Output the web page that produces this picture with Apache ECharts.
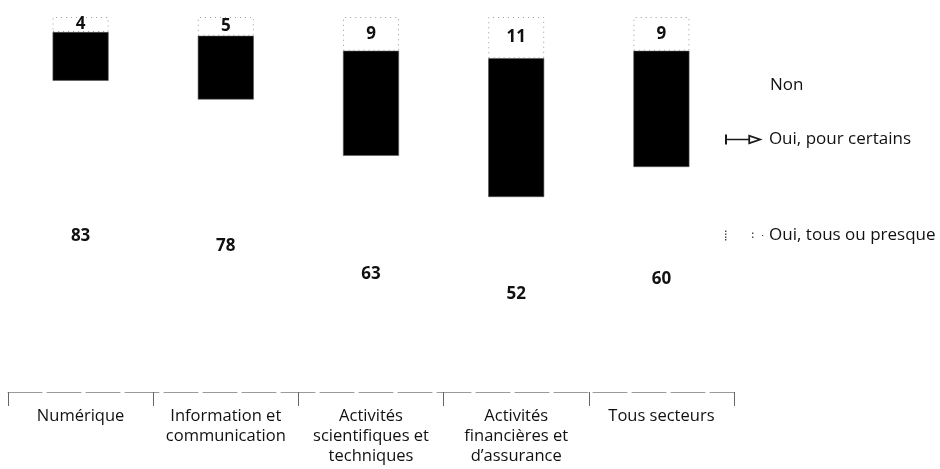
<!DOCTYPE html>
<html>
<head>
<meta charset="utf-8">
<script src="https://cdn.jsdelivr.net/npm/echarts@6/dist/echarts.min.js"></script>
<style>
  html, body { margin: 0; padding: 0; background: #fff; }
  #chart { width: 940px; height: 469px; }
</style>
</head>
<body>
<div id="chart"></div>
<script>
// Sectors and share of answers (%)
const categories = [
  'Numérique',
  'Information et\ncommunication',
  'Activités\nscientifiques et\ntechniques',
  'Activités\nfinancières et\nd\u2019assurance',
  'Tous secteurs'
];
const nonValues = [83, 78, 63, 52, 60];
const ouiCertainsValues = [13, 17, 28, 37, 31];
const ouiTousValues = [4, 5, 9, 11, 9];

const seriesNames = ['Non', 'Oui, pour certains', 'Oui, tous ou presque'];

const FONT = '"Open Sans", "Liberation Sans", sans-serif';

// Legend glyphs
const arrowIcon = 'path://M0 0.5H1.8V9.5H0Z M1.8 4.3H22V5.7H1.8Z M21 0.6L34 5L21 9.4Z M22.6 2.8L22.6 7.2L29.4 5Z';
const dotsIcon = 'path://M0 0H1.4V1.6H0Z M0 3H1.4V4.6H0Z M0 6H1.4V7.6H0Z M0 8.4H1.4V10H0Z M27 2H28.4V3.4H27Z M27 6H28.4V7.4H27Z M37 4.4H38.2V5.6H37Z';

const legendBase = {
  orient: 'vertical',
  left: 720,
  itemWidth: 40,
  itemHeight: 10,
  textStyle: { fontFamily: FONT, fontSize: 17, color: '#111' },
  selectedMode: false
};

const option = {
  animation: false,
  backgroundColor: '#fff',
  grid: { left: 8, right: 206, top: 17, bottom: 77, containLabel: false },
  legend: [
    Object.assign({}, legendBase, {
      top: 72,
      data: [{ name: seriesNames[0], icon: 'rect', itemStyle: { color: '#fff', borderWidth: 0 } }]
    }),
    Object.assign({}, legendBase, {
      top: 126,
      data: [{ name: seriesNames[1], icon: arrowIcon, itemStyle: { color: '#1a1a1a', borderWidth: 0 } }]
    }),
    Object.assign({}, legendBase, {
      top: 222,
      data: [{ name: seriesNames[2], icon: dotsIcon, itemStyle: { color: '#444', borderWidth: 0 } }]
    })
  ],
  xAxis: {
    type: 'category',
    data: categories,
    offset: 11,
    axisLine: { show: true, lineStyle: { color: '#9a9a9a', width: 1, type: [34, 5] } },
    axisTick: { show: true, length: 14, lineStyle: { color: '#666', width: 1 } },
    axisLabel: {
      margin: 3,
      interval: 0,
      fontFamily: FONT,
      fontSize: 16.5,
      lineHeight: 20,
      color: '#111',
      verticalAlign: 'top'
    }
  },
  yAxis: {
    type: 'value',
    min: 0,
    max: 100,
    show: false,
    splitLine: { show: false }
  },
  series: [
    {
      name: seriesNames[0],
      type: 'bar',
      stack: 'total',
      barWidth: 56,
      data: nonValues,
      itemStyle: { color: '#fff' },
      label: {
        show: true,
        position: 'inside',
        fontFamily: FONT,
        fontSize: 17,
        fontWeight: 'bold',
        color: '#111'
      }
    },
    {
      name: seriesNames[1],
      type: 'bar',
      stack: 'total',
      barWidth: 56,
      data: ouiCertainsValues,
      itemStyle: { color: '#000', borderColor: '#555', borderWidth: 0.6 }
    },
    {
      name: seriesNames[2],
      type: 'bar',
      stack: 'total',
      barWidth: 56,
      data: ouiTousValues,
      itemStyle: { color: '#fff', borderColor: '#9a9a9a', borderWidth: 1, borderType: [1, 4] },
      label: {
        show: true,
        position: 'inside',
        fontFamily: FONT,
        fontSize: 17,
        fontWeight: 'bold',
        color: '#111'
      }
    }
  ]
};

const chart = echarts.init(document.getElementById('chart'), null, { renderer: 'canvas' });
chart.setOption(option);
</script>
</body>
</html>
